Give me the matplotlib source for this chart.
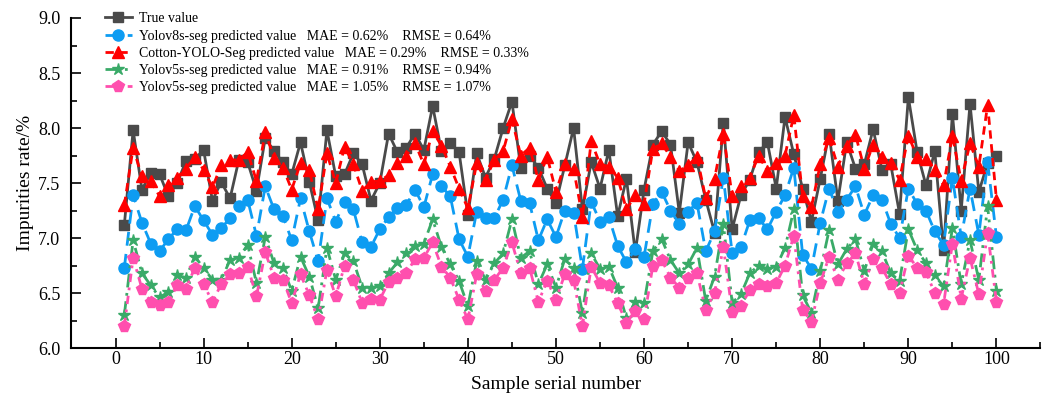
import numpy as np
import matplotlib
matplotlib.use("Agg")
import matplotlib.pyplot as plt
from matplotlib.ticker import MultipleLocator

plt.rcParams['font.family'] = ['Liberation Serif', 'DejaVu Serif']

samples = np.arange(1, 101)

true_value = [7.12, 7.98, 7.44, 7.59, 7.58, 7.38, 7.50, 7.70, 7.72, 7.80,
              7.34, 7.51, 7.36, 7.71, 7.69, 7.43, 7.91, 7.79, 7.69, 7.58,
              7.87, 7.51, 7.16, 7.98, 7.56, 7.58, 7.77, 7.67, 7.34, 7.50,
              7.95, 7.78, 7.82, 7.95, 7.80, 8.20, 7.79, 7.86, 7.78, 7.21,
              7.77, 7.55, 7.72, 8.00, 8.24, 7.64, 7.75, 7.64, 7.45, 7.32,
              7.66, 8.00, 7.26, 7.69, 7.45, 7.80, 7.20, 7.54, 6.87, 7.44,
              7.85, 7.97, 7.85, 7.23, 7.87, 7.69, 7.35, 7.05, 8.05, 7.08,
              7.39, 7.53, 7.78, 7.87, 7.45, 8.10, 7.76, 7.45, 7.15, 7.54,
              7.95, 7.34, 7.87, 7.63, 7.67, 7.99, 7.62, 7.67, 7.22, 8.28,
              7.78, 7.48, 7.79, 6.89, 8.13, 7.25, 8.22, 7.42, 7.68, 7.75]

yolov8s = [6.73, 7.39, 7.14, 6.95, 6.88, 6.99, 7.08, 7.07, 7.29, 7.16,
           7.03, 7.09, 7.18, 7.29, 7.35, 7.02, 7.47, 7.26, 7.20, 6.98,
           7.36, 7.06, 6.79, 7.36, 7.15, 7.33, 7.26, 6.96, 6.92, 7.08,
           7.19, 7.27, 7.30, 7.44, 7.28, 7.58, 7.47, 7.38, 6.99, 6.83,
           7.24, 7.18, 7.18, 7.35, 7.66, 7.34, 7.32, 6.98, 7.17, 7.01,
           7.25, 7.23, 6.72, 7.33, 7.15, 7.19, 6.93, 6.78, 6.90, 6.83,
           7.31, 7.42, 7.25, 7.13, 7.24, 7.32, 6.88, 7.06, 7.55, 6.86,
           6.92, 7.16, 7.18, 7.08, 7.24, 7.39, 7.64, 6.85, 6.72, 7.14,
           7.45, 7.24, 7.35, 7.47, 7.21, 7.39, 7.35, 7.13, 7.00, 7.45,
           7.31, 7.25, 7.06, 6.94, 7.55, 7.01, 7.45, 7.03, 7.69, 7.01]

cotton_yolo = [7.30, 7.82, 7.56, 7.52, 7.38, 7.48, 7.55, 7.63, 7.74, 7.62,
               7.46, 7.66, 7.71, 7.71, 7.78, 7.52, 7.96, 7.73, 7.64, 7.44,
               7.68, 7.62, 7.26, 7.77, 7.50, 7.83, 7.67, 7.43, 7.51, 7.52,
               7.57, 7.68, 7.75, 7.86, 7.67, 7.97, 7.84, 7.65, 7.45, 7.27,
               7.68, 7.53, 7.71, 7.79, 8.08, 7.75, 7.82, 7.53, 7.74, 7.42,
               7.67, 7.63, 7.19, 7.88, 7.67, 7.65, 7.55, 7.26, 7.39, 7.31,
               7.81, 7.86, 7.74, 7.61, 7.66, 7.74, 7.36, 7.54, 7.95, 7.38,
               7.47, 7.55, 7.75, 7.61, 7.68, 7.75, 8.12, 7.38, 7.28, 7.67,
               7.91, 7.65, 7.84, 7.94, 7.63, 7.85, 7.74, 7.68, 7.53, 7.93,
               7.74, 7.72, 7.62, 7.48, 7.93, 7.52, 7.86, 7.65, 8.21, 7.35]

yolov5s_a = [6.30, 6.98, 6.68, 6.57, 6.46, 6.51, 6.66, 6.64, 6.83, 6.73,
             6.62, 6.62, 6.80, 6.82, 6.94, 6.59, 7.01, 6.77, 6.73, 6.52,
             6.83, 6.65, 6.36, 6.91, 6.62, 6.86, 6.79, 6.55, 6.55, 6.56,
             6.68, 6.78, 6.86, 6.93, 6.95, 7.17, 6.92, 6.76, 6.61, 6.38,
             6.79, 6.62, 6.77, 6.86, 7.17, 6.82, 6.88, 6.58, 6.76, 6.55,
             6.81, 6.73, 6.32, 6.86, 6.72, 6.74, 6.55, 6.27, 6.42, 6.41,
             6.88, 6.99, 6.80, 6.68, 6.76, 6.91, 6.43, 6.65, 7.13, 6.41,
             6.49, 6.68, 6.75, 6.72, 6.74, 6.91, 7.26, 6.48, 6.32, 6.70,
             7.07, 6.76, 6.90, 6.99, 6.70, 6.95, 6.88, 6.68, 6.61, 7.08,
             6.89, 6.77, 6.66, 6.56, 7.09, 6.58, 6.98, 6.62, 7.29, 6.52]

yolov5s_b = [6.20, 6.82, 6.54, 6.42, 6.39, 6.42, 6.57, 6.54, 6.73, 6.58,
             6.42, 6.58, 6.67, 6.68, 6.74, 6.47, 6.87, 6.64, 6.62, 6.41,
             6.67, 6.48, 6.26, 6.71, 6.47, 6.75, 6.62, 6.41, 6.45, 6.44,
             6.60, 6.64, 6.68, 6.81, 6.82, 6.96, 6.74, 6.64, 6.44, 6.26,
             6.67, 6.52, 6.62, 6.73, 6.96, 6.68, 6.73, 6.42, 6.61, 6.44,
             6.67, 6.62, 6.20, 6.74, 6.59, 6.57, 6.41, 6.23, 6.34, 6.26,
             6.75, 6.80, 6.64, 6.55, 6.64, 6.68, 6.35, 6.50, 6.92, 6.33,
             6.38, 6.53, 6.58, 6.56, 6.59, 6.75, 7.02, 6.35, 6.24, 6.59,
             6.83, 6.62, 6.77, 6.86, 6.58, 6.81, 6.73, 6.58, 6.50, 6.84,
             6.73, 6.69, 6.50, 6.40, 6.95, 6.45, 6.82, 6.49, 7.05, 6.42]

labels = ["True value",
          "Yolov8s-seg predicted value   MAE = 0.62%    RMSE = 0.64%",
          "Cotton-YOLO-Seg predicted value   MAE = 0.29%    RMSE = 0.33%",
          "Yolov5s-seg predicted value   MAE = 0.91%    RMSE = 0.94%",
          "Yolov5s-seg predicted value   MAE = 1.05%    RMSE = 1.07%"]

fig = plt.figure(figsize=(10.51, 4.09), dpi=100)
ax = fig.add_axes([0.068, 0.149, 0.922, 0.807])

ax.plot(samples, true_value, color='#4a4a4a', lw=2, ls='-', marker='s', ms=6.5, label=labels[0])
ax.plot(samples, yolov8s, color='#0d9cf2', lw=2, ls=(0, (5, 3)), marker='o', ms=8, label=labels[1])
ax.plot(samples, cotton_yolo, color='#ff0000', lw=2, ls=(0, (3, 2)), marker='^', ms=8, label=labels[2])
ax.plot(samples, yolov5s_a, color='#3aaa68', lw=2, ls=(0, (5, 2, 1, 2)), marker='*', ms=9, label=labels[3])
ax.plot(samples, yolov5s_b, color='#ff4fae', lw=2, ls=(0, (3, 2, 1, 2)), marker='p', ms=8.5, label=labels[4])

ax.set_xlim(-5, 105)
ax.set_ylim(6.0, 9.0)
ax.xaxis.set_major_locator(MultipleLocator(10))
ax.xaxis.set_minor_locator(MultipleLocator(5))
ax.yaxis.set_major_locator(MultipleLocator(0.5))
ax.yaxis.set_minor_locator(MultipleLocator(0.25))
ax.yaxis.set_major_formatter(matplotlib.ticker.FormatStrFormatter('%.1f'))
ax.tick_params(which='major', direction='in', length=7, width=1.2, labelsize=13)
ax.tick_params(axis='x', which='major', pad=2)
ax.tick_params(axis='y', which='major', pad=8)
ax.tick_params(which='minor', direction='in', length=4, width=1.2)
for s in ['top', 'right']:
    ax.spines[s].set_visible(False)
for s in ['left', 'bottom']:
    ax.spines[s].set_linewidth(1.5)

ax.set_xlabel('Sample serial number', fontsize=14, labelpad=6)
ax.set_ylabel('Impurities rate/%', fontsize=14, labelpad=3)

ax.legend(loc='upper left', bbox_to_anchor=(0.022, 1.055), frameon=False, fontsize=10,
          handlelength=1.9, handletextpad=0.5, labelspacing=0.3)

fig.savefig('out.png', dpi=100)
